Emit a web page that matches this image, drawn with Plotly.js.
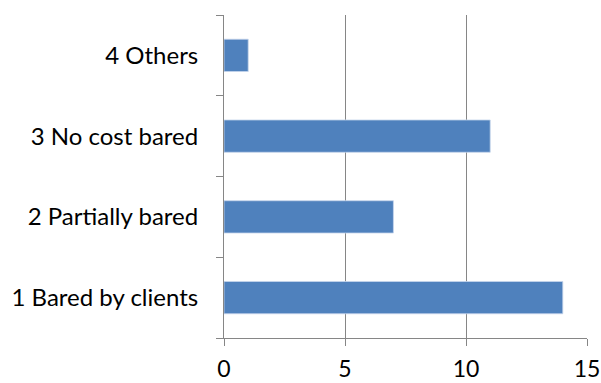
<!DOCTYPE html>
<html>
<head>
<meta charset="utf-8">
<script src="https://cdn.plot.ly/plotly-3.0.1.min.js"></script>
<style>html,body{margin:0;padding:0;background:#fff;}#chart{width:601px;height:383px;}</style>
</head>
<body>
<div id="chart"></div>
<script>
const categories = ["1 Bared by clients", "2 Partially bared", "3 No cost bared", "4 Others"];
const values = [14, 7, 11, 1];
const xTicks = [0, 5, 10, 15];

const trace = {
  type: "bar",
  orientation: "h",
  y: categories,
  x: values,
  marker: {color: "#4F81BD", line: {color: "#C6D6EC", width: 0.8}},
  hoverinfo: "none"
};

const layout = {
  width: 601,
  height: 383,
  margin: {l: 224, r: 14, t: 15, b: 45},
  paper_bgcolor: "#fff",
  plot_bgcolor: "#fff",
  showlegend: false,
  bargap: 0.6,
  font: {family: "Lato, 'Open Sans', sans-serif", size: 24, color: "#000"},
  xaxis: {
    range: [0, 15],
    tickvals: xTicks,
    ticktext: xTicks.map(String),
    tickfont: {size: 23},
    showgrid: true,
    gridcolor: "#868686",
    gridwidth: 1,
    zeroline: false,
    showline: true,
    linecolor: "#868686",
    linewidth: 1,
    ticks: "outside",
    ticklen: 7,
    tickcolor: "#868686",
    ticklabelstandoff: 3,
    fixedrange: true
  },
  yaxis: {
    type: "category",
    categoryorder: "array",
    categoryarray: categories,
    range: [-0.5, 3.5],
    showgrid: false,
    zeroline: false,
    showline: true,
    linecolor: "#868686",
    linewidth: 1,
    ticks: "outside",
    tickson: "boundaries",
    ticklen: 7,
    tickcolor: "#868686",
    ticklabelstandoff: 20,
    fixedrange: true
  }
};

Plotly.newPlot("chart", [trace], layout, {displayModeBar: false, staticPlot: true});
</script>
</body>
</html>
